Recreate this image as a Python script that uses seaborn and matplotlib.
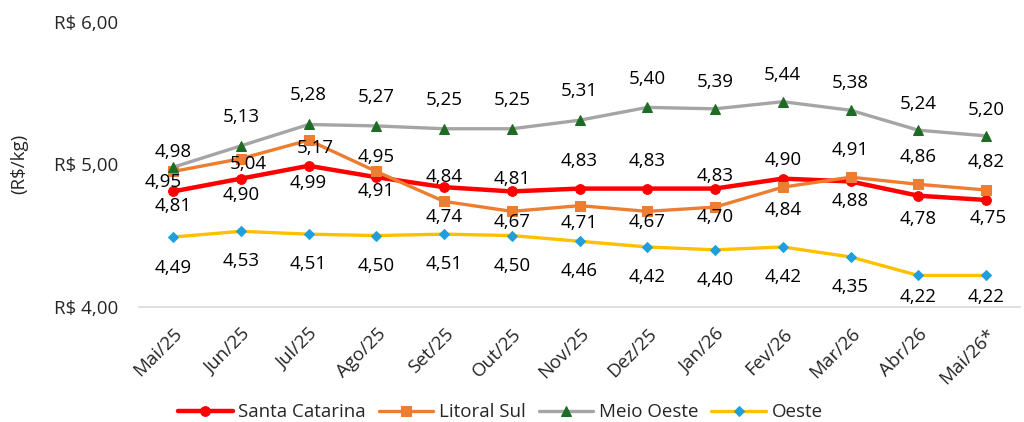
import pandas as pd
import matplotlib.pyplot as plt
import seaborn as sns

# dados (R$/kg)
meses = ['Mai/25', 'Jun/25', 'Jul/25', 'Ago/25', 'Set/25', 'Out/25', 'Nov/25',
         'Dez/25', 'Jan/26', 'Fev/26', 'Mar/26', 'Abr/26', 'Mai/26*']
santa_catarina = [4.81, 4.90, 4.99, 4.91, 4.84, 4.81, 4.83, 4.83, 4.83, 4.90, 4.88, 4.78, 4.75]
litoral_sul = [4.95, 5.04, 5.17, 4.95, 4.74, 4.67, 4.71, 4.67, 4.70, 4.84, 4.91, 4.86, 4.82]
meio_oeste = [4.98, 5.13, 5.28, 5.27, 5.25, 5.25, 5.31, 5.40, 5.39, 5.44, 5.38, 5.24, 5.20]
oeste = [4.49, 4.53, 4.51, 4.50, 4.51, 4.50, 4.46, 4.42, 4.40, 4.42, 4.35, 4.22, 4.22]

# deslocamento dos rotulos (pixels, dx, dy)
off_sc = [(0, -15), (0, -16), (0, -17), (0, -14), (0, 10), (0, 12), (0, 28),
          (0, 28), (0, 13), (0, 19), (0, -20), (0, -23), (2, -18)]
off_ls = [(-10, -11), (7, -5), (7, -8), (0, 14), (0, -16), (0, -11), (0, -17),
          (0, -11), (0, -10), (0, -23), (0, 27), (0, 27), (0, 28)]
off_mo = [(0, 15), (0, 29), (0, 29), (0, 29), (0, 29), (0, 29), (0, 29),
          (0, 28), (0, 27), (0, 27), (0, 27), (0, 26), (0, 26)]
off_oe = [(0, -31), (0, -30), (0, -30), (0, -30), (0, -30), (0, -30), (0, -30),
          (0, -30), (0, -30), (0, -30), (0, -30), (0, -22), (0, -22)]

sns.set_style("white")
plt.rcParams['font.family'] = ['Open Sans', 'DejaVu Sans']
fs = 13.5

df = pd.DataFrame({'mes': meses, 'Santa Catarina': santa_catarina,
                   'Litoral Sul': litoral_sul, 'Meio Oeste': meio_oeste,
                   'Oeste': oeste})

fig = plt.figure(figsize=(10.24, 4.22), dpi=100)
ax = fig.add_axes([0.136, 0.273, 0.860, 0.675])

series = [
    ('Santa Catarina', '#ff0000', 'o', '#ff0000', 3.2, 7, off_sc),
    ('Litoral Sul', '#ed7d31', 's', '#ed7d31', 2.4, 6.5, off_ls),
    ('Meio Oeste', '#a5a5a5', '^', '#1e6b23', 2.4, 6.5, off_mo),
    ('Oeste', '#ffc000', 'D', '#1fa0dc', 2.4, 5, off_oe),
]

x = list(range(len(meses)))
for nome, cor, mk, mcor, lw, ms, offs in series:
    sns.lineplot(x=x, y=df[nome], ax=ax, color=cor, linewidth=lw, marker=mk,
                 markersize=ms, markerfacecolor=mcor, markeredgecolor=mcor,
                 label=nome, zorder=3)
    for i, v in enumerate(df[nome]):
        ax.annotate(f'{v:.2f}'.replace('.', ','), (i, v), xytext=offs[i],
                    textcoords='offset pixels', ha='center', va='center',
                    fontsize=fs, color='#000000', zorder=5)

ax.set_xlim(-0.5, len(meses) - 0.5)
ax.set_ylim(4.0, 6.0)
ax.set_yticks([4.0, 5.0, 6.0])
ax.set_yticklabels(['R$ 4,00', 'R$ 5,00', 'R$ 6,00'], fontsize=fs)
ax.set_xticks(x)
ax.set_xticklabels(meses, rotation=45, ha='right', rotation_mode='anchor',
                   fontsize=fs)
ax.set_xticks([i - 0.5 for i in range(len(meses) + 1)], minor=True)
ax.tick_params(axis='x', which='major', length=0, pad=13)
ax.tick_params(axis='x', which='minor', length=6, color='#d9d9d9', width=1.2)
ax.tick_params(axis='y', length=0, pad=15)
ax.set_ylabel('(R$/kg)', fontsize=fs, labelpad=19)
ax.set_xlabel('')

for s in ['top', 'right', 'left']:
    ax.spines[s].set_visible(False)
ax.spines['bottom'].set_color('#d9d9d9')
ax.spines['bottom'].set_linewidth(1.2)

ax.legend(loc='center', bbox_to_anchor=(0.41, -0.37), ncol=4,
          frameon=False, fontsize=fs, handlelength=2.9, columnspacing=0.7,
          handletextpad=0.3)

plt.savefig('out.png', dpi=100)
